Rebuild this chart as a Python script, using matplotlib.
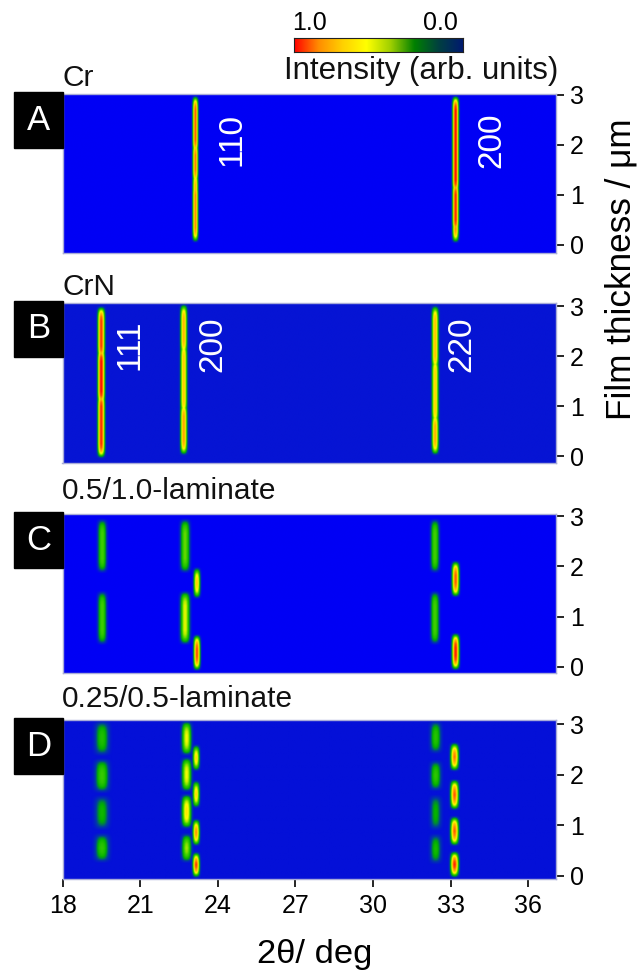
import numpy as np
import matplotlib
matplotlib.use("Agg")
import matplotlib.pyplot as plt
from matplotlib.colors import LinearSegmentedColormap
from matplotlib.patches import Rectangle

plt.rcParams["font.family"] = ["Liberation Sans", "DejaVu Sans"]

W, H = 642, 974

x_ticks = [18, 21, 24, 27, 30, 33, 36]
y_ticks = [0, 1, 2, 3]
panel_letters = ["A", "B", "C", "D"]
panel_titles = ["Cr", "CrN", "0.5/1.0-laminate", "0.25/0.5-laminate"]

# cross-section of a peak: offset in half-widths -> relative height
profile_offset = [-1.0, -0.8, -0.6, -0.4, -0.2, 0.0, 0.2, 0.4, 0.6, 0.8, 1.0]
profile_height = [0.0, 0.1, 0.32, 0.66, 0.92, 1.0, 0.92, 0.66, 0.32, 0.1, 0.0]
# end of a grain segment: distance from the end (um) -> relative height
taper_dist = [0.0, 0.04, 0.09, 0.15, 0.22, 0.3]
taper_height = [0.0, 0.22, 0.55, 0.8, 0.94, 1.0]

# peaks: (2theta centre, half width, [(y from, y to, intensity), ...])
peaks_a = [
    (23.12, 0.17, [(0.04, 1.3, 0.84), (0.7, 1.5, 0.76), (1.2, 2.1, 0.86), (1.8, 3.0, 0.9)]),
    (33.2, 0.19, [(0.03, 0.6, 0.84), (0.2, 1.3, 0.97), (1.0, 3.0, 1.0)]),
]
peaks_b = [
    (19.47, 0.22, [(-0.05, 1.3, 0.96), (1.0, 2.2, 1.0), (1.9, 3.01, 0.94)]),
    (22.66, 0.21, [(0.01, 1.1, 0.8), (0.8, 2.3, 0.72), (2.0, 3.06, 0.76)]),
    (32.38, 0.21, [(0.01, 0.9, 0.78), (0.6, 2.0, 0.7), (1.7, 3.03, 0.74)]),
]
peaks_c = [
    (19.51, 0.27, [(1.86, 2.96, 0.42), (0.43, 1.52, 0.42)]),
    (22.72, 0.29, [(1.86, 2.96, 0.46), (0.43, 1.52, 0.58)]),
    (23.18, 0.2, [(1.35, 1.99, 0.72), (-0.09, 0.65, 0.92)]),
    (32.4, 0.26, [(1.86, 2.96, 0.42), (0.43, 1.52, 0.42)]),
    (33.2, 0.22, [(1.38, 2.12, 0.9), (-0.08, 0.68, 0.98)]),
]
peaks_d = [
    (19.5, 0.42, [(2.37, 3.08, 0.34), (1.63, 2.33, 0.4), (0.9, 1.6, 0.3), (0.25, 0.85, 0.38)]),
    (22.77, 0.3, [(2.37, 3.08, 0.6), (1.65, 2.36, 0.6), (0.92, 1.63, 0.66), (0.25, 0.85, 0.52)]),
    (23.14, 0.21, [(2.06, 2.61, 0.7), (1.33, 1.9, 0.7), (0.58, 1.14, 0.84), (-0.05, 0.48, 0.97)]),
    (32.4, 0.33, [(2.41, 3.08, 0.36), (1.67, 2.3, 0.38), (0.89, 1.61, 0.28), (0.22, 0.84, 0.32)]),
    (33.13, 0.25, [(2.06, 2.65, 0.87), (1.29, 1.92, 0.9), (0.58, 1.19, 0.9), (-0.05, 0.5, 0.99)]),
]
panel_peaks = [peaks_a, peaks_b, peaks_c, peaks_d]

# panel box in pixels: left, top, bottom; y-axis limits; background; title centre
panel_left = [63, 62.5, 63, 62.7]
panel_px = [(94, 253), (303, 462.5), (514, 673), (720, 879)]
panel_ylim = [(-0.16, 3.02), (-0.13, 3.06), (-0.12, 3.04), (-0.06, 3.08)]
background = ["#0000f5", "#0614d4", "#0000f5", "#0410d8"]
title_y = [78, 287, 491, 699]
peak_labels = [
    [("110", 232, 140), ("200", 492, 140)],
    [("111", 130, 345), ("200", 213, 344), ("220", 462, 344)],
    [], [],
]
bar_colors = ["#ff0000", "#ff8c00", "#ffd000", "#ffff00", "#a0d000", "#008000", "#004040", "#001a70"]


def px_axes(left, top, right, bottom):
    return fig.add_axes([left / W, 1 - bottom / H, (right - left) / W, (bottom - top) / H])


def ftext(x, y, s, **kw):
    return fig.text(x / W, 1 - y / H, s, **kw)


def intensity_map(peaks, xs, ys):
    grid = np.zeros((len(ys), len(xs)))
    for cen, hw, segs in peaks:
        across = np.interp((xs - cen) / hw, profile_offset, profile_height)
        along = np.zeros_like(ys)
        for y0, y1, val in segs:
            lo = np.interp(ys - y0, taper_dist, taper_height, left=0)
            hi = np.interp(y1 - ys, taper_dist, taper_height, left=0)
            along = np.maximum(along, val * np.minimum(lo, hi))
        grid = np.maximum(grid, np.outer(along, across))
    return grid


fig = plt.figure(figsize=(W / 100, H / 100), dpi=100)

xlim = (18, 37.08)
xs = np.linspace(xlim[0], xlim[1], 1000)

for i, (top, bottom) in enumerate(panel_px):
    ax = px_axes(panel_left[i], top, 556, bottom)
    ylim = panel_ylim[i]
    ys = np.linspace(ylim[0], ylim[1], 330)
    cmap = LinearSegmentedColormap.from_list(
        "peak",
        [(0, background[i]), (0.13, "#0040a0"), (0.26, "#00b000"), (0.42, "#40d000"),
         (0.6, "#ffff00"), (0.8, "#ffa000"), (1, "#ff0000")],
    )
    ax.imshow(intensity_map(panel_peaks[i], xs, ys), origin="lower", aspect="auto",
              extent=(xlim[0], xlim[1], ylim[0], ylim[1]), cmap=cmap, vmin=0, vmax=1,
              interpolation="bilinear")
    ax.set_xlim(*xlim)
    ax.set_ylim(*ylim)
    ax.yaxis.tick_right()
    ax.set_yticks(y_ticks)
    ax.tick_params(axis="y", labelsize=18, length=6, width=1.2, pad=4)
    if i == 3:
        ax.set_xticks(x_ticks)
        ax.tick_params(axis="x", labelsize=18, length=6, width=1.2, pad=5)
    else:
        ax.set_xticks([])
    for sp in ax.spines.values():
        sp.set_color("#a8acd8")
        sp.set_linewidth(1.0)

    # letter box
    fig.add_artist(Rectangle((13.5 / W, 1 - (top + 54) / H), 49.5 / W, 56 / H,
                             transform=fig.transFigure, color="black", zorder=5))
    ftext(38.5, top + 26, panel_letters[i], color="white", fontsize=25,
          ha="center", va="center", zorder=6)

    ftext(62, title_y[i], panel_titles[i], fontsize=21.5, ha="left", va="center", color="#111111")

    for label, lx, ly in peak_labels[i]:
        ftext(lx, ly, label, color="white", fontsize=24, rotation=90, ha="center", va="center", zorder=6)

# intensity colour bar
cax = px_axes(294, 38, 463, 52)
bar = np.linspace(0, 1, 256)[None, :]
cax.imshow(bar, aspect="auto", cmap=LinearSegmentedColormap.from_list("bar", bar_colors))
cax.set_xticks([])
cax.set_yticks([])
for sp in cax.spines.values():
    sp.set_linewidth(0.8)
    sp.set_color("#222222")
ftext(310, 23, "1.0", fontsize=18, ha="center", va="center")
ftext(440, 23, "0.0", fontsize=18, ha="center", va="center")
ftext(421, 71, "Intensity (arb. units)", fontsize=22.5, ha="center", va="center", color="#111111")

ftext(621, 269, "Film thickness / μm", fontsize=25.3, rotation=90, ha="center", va="center")
ftext(315, 955, "2θ/ deg", fontsize=24.8, ha="center", va="center")

fig.savefig("out.png", dpi=100)
